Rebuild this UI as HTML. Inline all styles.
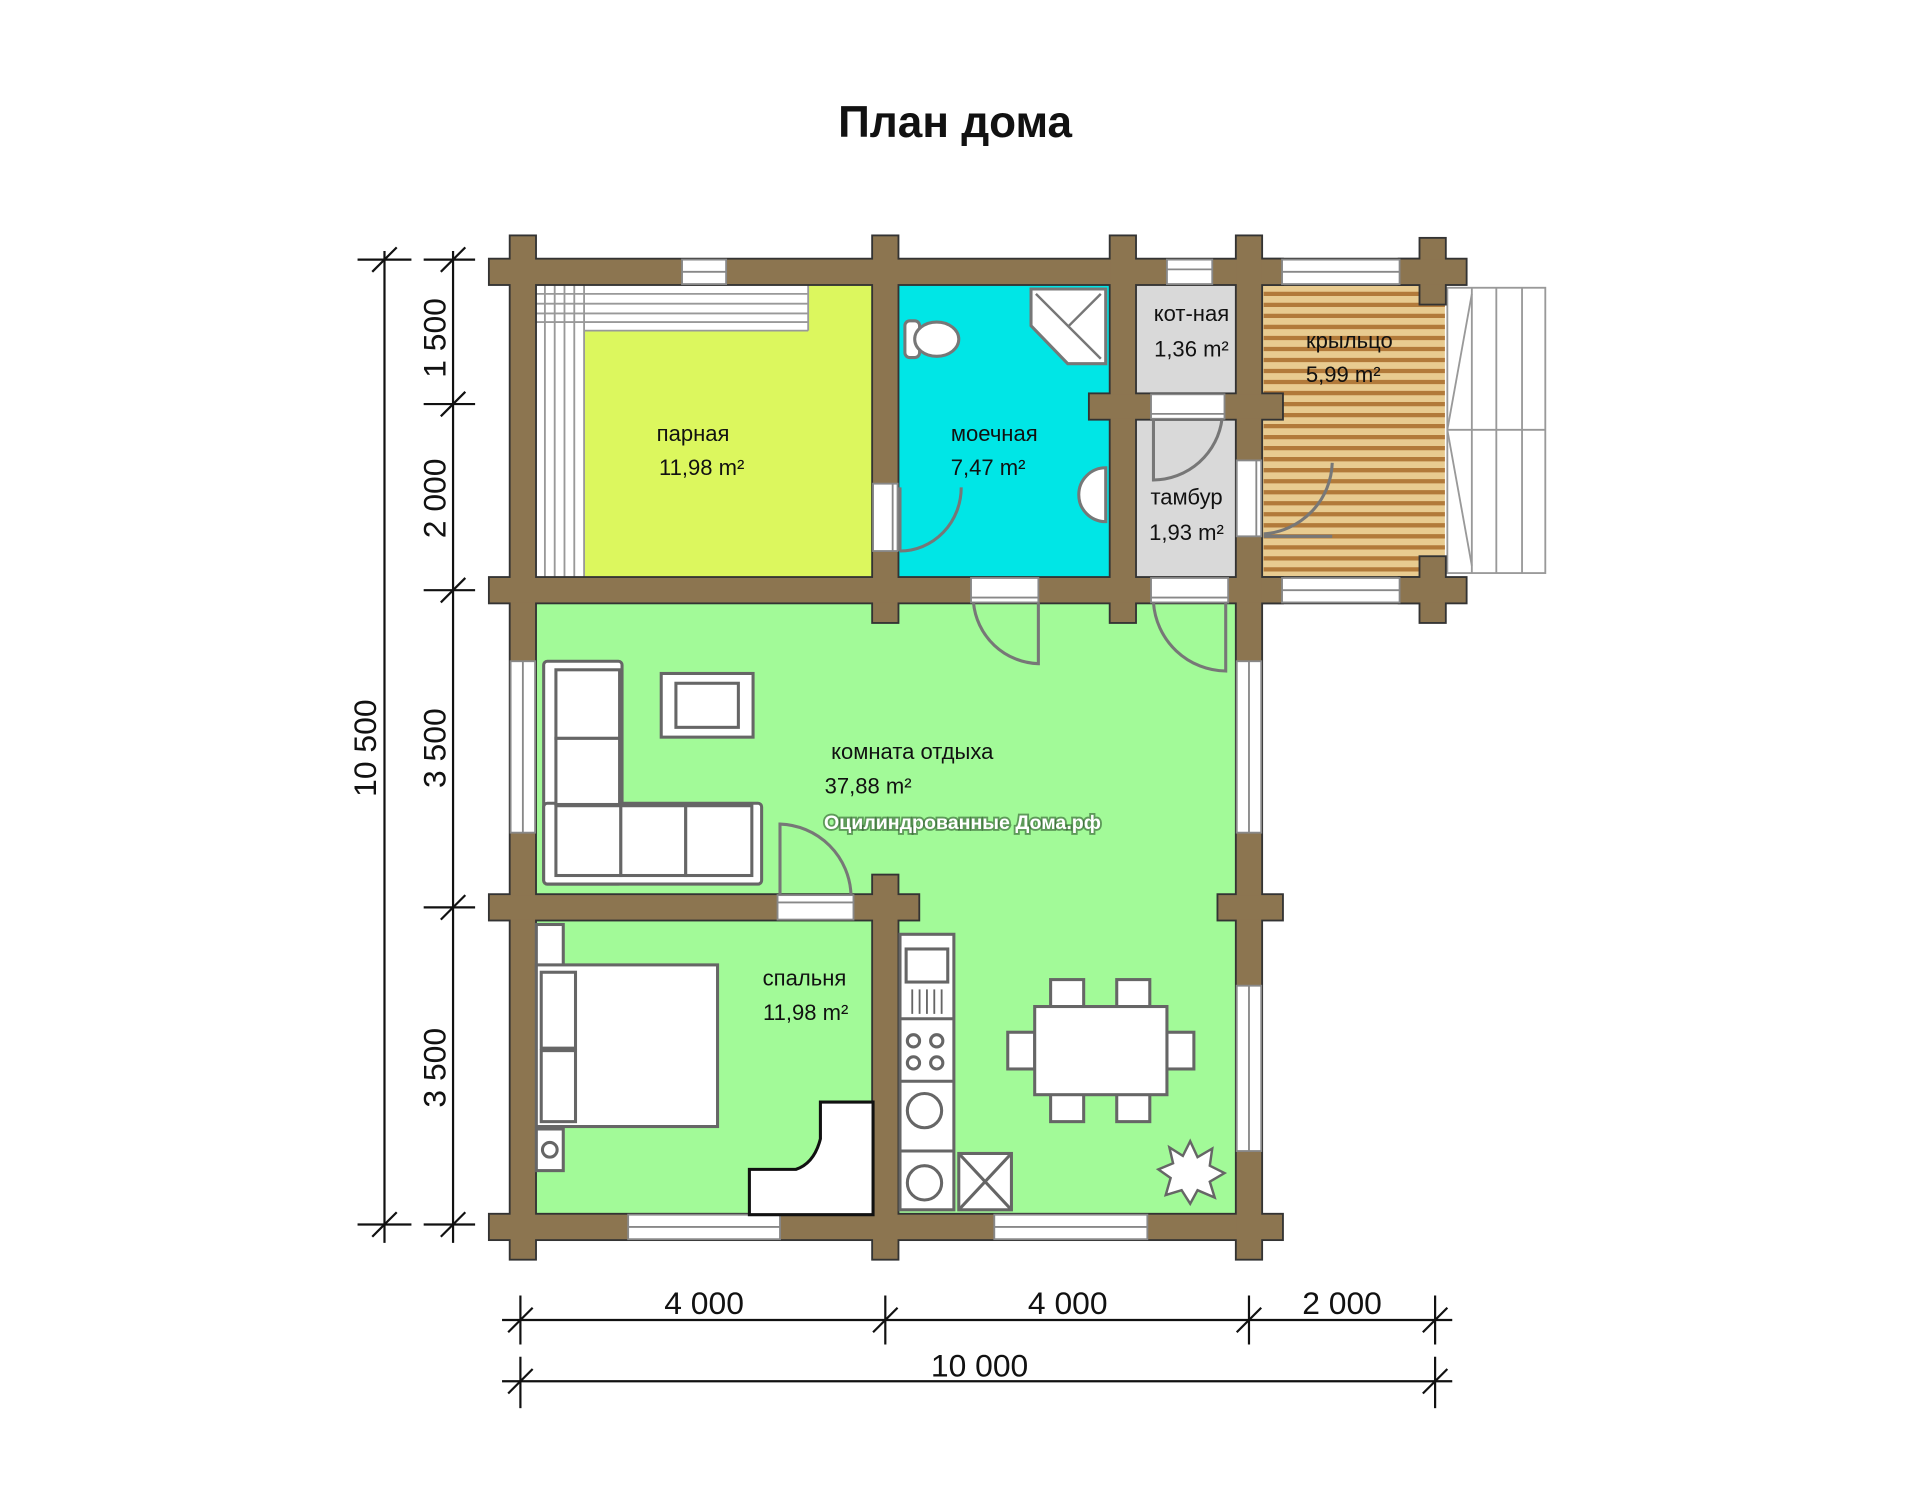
<!DOCTYPE html>
<html><head><meta charset="utf-8"><style>
html,body{margin:0;padding:0;background:#fff;}
svg{display:block;}
text{font-family:"Liberation Sans",sans-serif;}
</style></head><body>
<svg width="1920" height="1500" viewBox="0 0 1568 1225" xmlns="http://www.w3.org/2000/svg">
<rect width="1568" height="1225" fill="#fff"/>
<text x="780" y="112" font-size="36" font-weight="bold" text-anchor="middle" fill="#111">План дома</text>

<rect x="437" y="232" width="276" height="240" fill="#dcf75e"/>
<rect x="437" y="232" width="40" height="240" fill="#fff"/>
<rect x="437" y="232" width="223" height="38" fill="#fff"/>
<g stroke="#999" stroke-width="1.5">
<line x1="445" y1="232" x2="445" y2="472"/><line x1="453" y1="232" x2="453" y2="472"/><line x1="461" y1="232" x2="461" y2="472"/><line x1="469" y1="232" x2="469" y2="472"/><line x1="477" y1="232" x2="477" y2="472"/>
<line x1="437" y1="240" x2="660" y2="240"/><line x1="437" y1="248" x2="660" y2="248"/><line x1="437" y1="256" x2="660" y2="256"/><line x1="437" y1="263" x2="660" y2="263"/><line x1="477" y1="270" x2="660" y2="270"/><line x1="660" y1="232" x2="660" y2="270"/>
</g>
<rect x="733" y="232" width="174" height="240" fill="#00e6e6"/>
<rect x="927" y="232" width="83" height="240" fill="#d9d9d9"/>
<rect x="1030" y="232" width="150" height="240" fill="#e8cb90"/>
<g stroke="#b27a3a" stroke-width="3.5">
<line x1="1032" y1="240" x2="1180" y2="240"/><line x1="1032" y1="249" x2="1180" y2="249"/><line x1="1032" y1="258" x2="1180" y2="258"/><line x1="1032" y1="267" x2="1180" y2="267"/><line x1="1032" y1="276" x2="1180" y2="276"/><line x1="1032" y1="285" x2="1180" y2="285"/><line x1="1032" y1="294" x2="1180" y2="294"/><line x1="1032" y1="303" x2="1180" y2="303"/><line x1="1032" y1="312" x2="1180" y2="312"/><line x1="1032" y1="321" x2="1180" y2="321"/><line x1="1032" y1="330" x2="1180" y2="330"/><line x1="1032" y1="339" x2="1180" y2="339"/><line x1="1032" y1="348" x2="1180" y2="348"/><line x1="1032" y1="357" x2="1180" y2="357"/><line x1="1032" y1="366" x2="1180" y2="366"/><line x1="1032" y1="375" x2="1180" y2="375"/><line x1="1032" y1="384" x2="1180" y2="384"/><line x1="1032" y1="393" x2="1180" y2="393"/><line x1="1032" y1="402" x2="1180" y2="402"/><line x1="1032" y1="411" x2="1180" y2="411"/><line x1="1032" y1="420" x2="1180" y2="420"/><line x1="1032" y1="429" x2="1180" y2="429"/><line x1="1032" y1="438" x2="1180" y2="438"/><line x1="1032" y1="447" x2="1180" y2="447"/><line x1="1032" y1="456" x2="1180" y2="456"/><line x1="1032" y1="465" x2="1180" y2="465"/>
</g>
<g fill="none" stroke="#999" stroke-width="1.5">
<rect x="1182" y="235" width="80" height="233" fill="#fff"/>
<line x1="1202" y1="235" x2="1202" y2="468"/><line x1="1222" y1="235" x2="1222" y2="468"/><line x1="1243" y1="235" x2="1243" y2="468"/>
<line x1="1182" y1="351" x2="1262" y2="351"/><line x1="1182" y1="351" x2="1202" y2="240"/><line x1="1182" y1="351" x2="1202" y2="462"/>
</g>
<rect x="437" y="492" width="573" height="500" fill="#a2fa98"/>

<g fill="#8c7550" stroke="#333" stroke-width="3">
<rect x="400" y="212" width="647" height="20"/>
<rect x="417" y="193" width="20" height="835"/>
<rect x="400" y="992" width="647" height="20"/>
<rect x="1010" y="193" width="20" height="835"/>
<rect x="713" y="193" width="20" height="315"/>
<rect x="907" y="193" width="20" height="315"/>
<rect x="400" y="472" width="647" height="20"/>
<rect x="890" y="322" width="157" height="20"/>
<rect x="400" y="731" width="350" height="20"/>
<rect x="713" y="715" width="20" height="313"/>
<rect x="995" y="731" width="52" height="20"/>
<rect x="1030" y="212" width="150" height="20"/>
<rect x="1030" y="472" width="150" height="20"/>
<rect x="1160" y="195" width="20" height="53"/><rect x="1143" y="212" width="54" height="20"/>
<rect x="1160" y="455" width="20" height="53"/><rect x="1143" y="472" width="54" height="20"/>
</g>
<g fill="#8c7550">
<rect x="400" y="212" width="647" height="20"/>
<rect x="417" y="193" width="20" height="835"/>
<rect x="400" y="992" width="647" height="20"/>
<rect x="1010" y="193" width="20" height="835"/>
<rect x="713" y="193" width="20" height="315"/>
<rect x="907" y="193" width="20" height="315"/>
<rect x="400" y="472" width="647" height="20"/>
<rect x="890" y="322" width="157" height="20"/>
<rect x="400" y="731" width="350" height="20"/>
<rect x="713" y="715" width="20" height="313"/>
<rect x="995" y="731" width="52" height="20"/>
<rect x="1030" y="212" width="150" height="20"/>
<rect x="1030" y="472" width="150" height="20"/>
<rect x="1160" y="195" width="20" height="53"/><rect x="1143" y="212" width="54" height="20"/>
<rect x="1160" y="455" width="20" height="53"/><rect x="1143" y="472" width="54" height="20"/>
</g>

<g fill="#fff" stroke="#888" stroke-width="1.5">
<rect x="557" y="212" width="36" height="20"/><line x1="557" y1="222" x2="593" y2="222"/>
<rect x="953" y="212" width="37" height="20"/><line x1="953" y1="220" x2="990" y2="220"/>
<rect x="1047" y="212" width="96" height="20"/><line x1="1047" y1="222" x2="1143" y2="222"/>
<rect x="1047" y="472" width="96" height="20"/><line x1="1047" y1="482" x2="1143" y2="482"/>
<rect x="793" y="472" width="55" height="20"/><line x1="793" y1="488" x2="848" y2="488"/>
<rect x="940" y="472" width="63" height="20"/><line x1="940" y1="488" x2="1003" y2="488"/>
<rect x="713" y="395" width="20" height="55"/><line x1="729" y1="395" x2="729" y2="450"/>
<rect x="940" y="322" width="60" height="20"/><line x1="940" y1="338" x2="1000" y2="338"/>
<rect x="1010" y="376" width="20" height="62"/><line x1="1026" y1="376" x2="1026" y2="438"/>
<rect x="417" y="540" width="20" height="140"/><line x1="427" y1="540" x2="427" y2="680"/>
<rect x="1010" y="540" width="20" height="140"/><line x1="1020" y1="540" x2="1020" y2="680"/>
<rect x="1010" y="805" width="20" height="135"/><line x1="1020" y1="805" x2="1020" y2="940"/>
<rect x="513" y="992" width="124" height="20"/><line x1="513" y1="1002" x2="637" y2="1002"/>
<rect x="812" y="992" width="125" height="20"/><line x1="812" y1="1002" x2="937" y2="1002"/>
<rect x="635" y="731" width="62" height="20"/><line x1="635" y1="737" x2="697" y2="737"/>
</g>

<g fill="none" stroke="#777" stroke-width="2.5">
<path d="M735 398 L735 450 M785 398 A50 52 0 0 1 735 450"/>
<path d="M848 492 L848 542 A55 55 0 0 1 795 492"/>
<path d="M1001 492 L1001 548 A60 60 0 0 1 942 492"/>
<path d="M942 342 L942 392 A57 57 0 0 0 998 342"/>
<path d="M1032 438 L1088 438 M1088 378 A60 60 0 0 1 1032 436"/>
<path d="M637 731 L637 673 A60 60 0 0 1 695 731"/>
</g>

<g fill="#fff" stroke="#777" stroke-width="2.5">
<path d="M842 236 L903 236 L903 297 L872 297 L842 266 Z"/>
<rect x="739" y="262" width="12" height="30" rx="4"/>
<ellipse cx="765" cy="277" rx="18" ry="14"/>
<path d="M903 382 A22 22 0 0 0 903 426 Z"/>
</g>
<g stroke="#777" stroke-width="2"><line x1="846" y1="240" x2="899" y2="293"/><line x1="899" y1="240" x2="872" y2="267"/></g>

<g fill="#fff" stroke="#666" stroke-width="2.5">
<rect x="444" y="540" width="64" height="182" rx="3"/>
<rect x="444" y="656" width="178" height="66" rx="3"/>
<rect x="454" y="547" width="52" height="56"/><rect x="454" y="603" width="52" height="54"/>
<rect x="454" y="658" width="53" height="57"/><rect x="507" y="658" width="53" height="57"/><rect x="560" y="658" width="54" height="57"/>
<rect x="540" y="550" width="75" height="52"/>
<rect x="552" y="558" width="51" height="36"/>
</g>
<g fill="#fff" stroke="#666" stroke-width="2.5">
<rect x="438" y="755" width="22" height="37"/>
<rect x="438" y="788" width="148" height="132"/>
<rect x="442" y="794" width="28" height="62"/><rect x="442" y="858" width="28" height="58"/>
<rect x="438" y="922" width="22" height="34"/><circle cx="449" cy="939" r="6"/>
</g>
<path d="M612 992 L612 955 L650 955 Q665 950 670 930 L670 900 L713 900 L713 992 Z" fill="#fff" stroke="#111" stroke-width="2.5"/>
<g fill="#fff" stroke="#666" stroke-width="2.5">
<rect x="735" y="763" width="44" height="225"/>
<rect x="740" y="775" width="34" height="27"/>
<line x1="735" y1="883" x2="779" y2="883"/>
<line x1="735" y1="832" x2="779" y2="832"/>
<circle cx="755" cy="907" r="14"/>
<circle cx="755" cy="966" r="14"/>
<line x1="735" y1="940" x2="779" y2="940"/>
<rect x="783" y="942" width="43" height="46"/>
<path d="M783 942 L826 988 M826 942 L783 988" fill="none"/>
<circle cx="746" cy="850" r="5"/><circle cx="765" cy="850" r="5"/><circle cx="746" cy="868" r="5"/><circle cx="765" cy="868" r="5"/>
</g>
<g stroke="#666" stroke-width="1.5"><line x1="745" y1="808" x2="745" y2="828"/><line x1="751" y1="808" x2="751" y2="828"/><line x1="757" y1="808" x2="757" y2="828"/><line x1="763" y1="808" x2="763" y2="828"/><line x1="769" y1="808" x2="769" y2="828"/></g>
<g fill="#fff" stroke="#666" stroke-width="2.5">
<rect x="858" y="800" width="27" height="24"/><rect x="912" y="800" width="27" height="24"/>
<rect x="858" y="892" width="27" height="24"/><rect x="912" y="892" width="27" height="24"/>
<rect x="823" y="843" width="22" height="30"/><rect x="953" y="843" width="22" height="30"/>
<rect x="845" y="822" width="108" height="72"/>
</g>
<g fill="#fff" stroke="#666" stroke-width="2">
<path d="M972 932 L978 945 L990 938 L988 952 L1000 958 L988 965 L992 978 L978 972 L972 983 L965 972 L952 976 L956 962 L946 955 L958 950 L955 937 L966 944 Z"/>
</g>

<g font-size="18" fill="#111" text-anchor="middle">
<text x="566" y="360">парная</text><text x="573" y="388">11,98 m²</text>
<text x="812" y="360">моечная</text><text x="807" y="388">7,47 m²</text>
<text x="973" y="262">кот-ная</text><text x="973" y="291">1,36 m²</text>
<text x="1102" y="284">крыльцо</text><text x="1097" y="312">5,99 m²</text>
<text x="969" y="412">тамбур</text><text x="969" y="441">1,93 m²</text>
<text x="745" y="620">комната отдыха</text><text x="709" y="648">37,88 m²</text>
<text x="657" y="805">спальня</text><text x="658" y="833">11,98 m²</text>
</g>
<text x="786" y="677" font-size="16" font-weight="bold" fill="#fff" stroke="#2f5a2f" stroke-width="3" stroke-opacity="0.6" paint-order="stroke" text-anchor="middle">Оцилиндрованные Дома.рф</text>

<g stroke="#111" stroke-width="1.8" fill="none">
<line x1="314" y1="205" x2="314" y2="1015"/>
<line x1="292" y1="212" x2="336" y2="212"/><line x1="304" y1="222" x2="324" y2="202"/>
<line x1="292" y1="1000" x2="336" y2="1000"/><line x1="304" y1="1010" x2="324" y2="990"/>
<line x1="370" y1="205" x2="370" y2="1015"/>
<line x1="346" y1="212" x2="388" y2="212"/><line x1="360" y1="222" x2="380" y2="202"/>
<line x1="346" y1="330" x2="388" y2="330"/><line x1="360" y1="340" x2="380" y2="320"/>
<line x1="346" y1="482" x2="388" y2="482"/><line x1="360" y1="492" x2="380" y2="472"/>
<line x1="346" y1="741" x2="388" y2="741"/><line x1="360" y1="751" x2="380" y2="731"/>
<line x1="346" y1="1000" x2="388" y2="1000"/><line x1="360" y1="1010" x2="380" y2="990"/>
<line x1="410" y1="1078" x2="1186" y2="1078"/>
<line x1="425" y1="1058" x2="425" y2="1098"/><line x1="415" y1="1088" x2="435" y2="1068"/>
<line x1="723" y1="1058" x2="723" y2="1098"/><line x1="713" y1="1088" x2="733" y2="1068"/>
<line x1="1020" y1="1058" x2="1020" y2="1098"/><line x1="1010" y1="1088" x2="1030" y2="1068"/>
<line x1="1172" y1="1058" x2="1172" y2="1098"/><line x1="1162" y1="1088" x2="1182" y2="1068"/>
<line x1="410" y1="1128" x2="1186" y2="1128"/>
<line x1="425" y1="1108" x2="425" y2="1150"/><line x1="415" y1="1138" x2="435" y2="1118"/>
<line x1="1172" y1="1108" x2="1172" y2="1150"/><line x1="1162" y1="1138" x2="1182" y2="1118"/>
</g>
<g font-size="26" fill="#111" text-anchor="middle">
<text x="575" y="1073">4 000</text><text x="872" y="1073">4 000</text><text x="1096" y="1073">2 000</text>
<text x="800" y="1124">10 000</text>
<text transform="translate(364,276) rotate(-90)">1 500</text>
<text transform="translate(364,407) rotate(-90)">2 000</text>
<text transform="translate(364,611) rotate(-90)">3 500</text>
<text transform="translate(364,872) rotate(-90)">3 500</text>
<text transform="translate(307,611) rotate(-90)">10 500</text>
</g>
</svg>
</body></html>
